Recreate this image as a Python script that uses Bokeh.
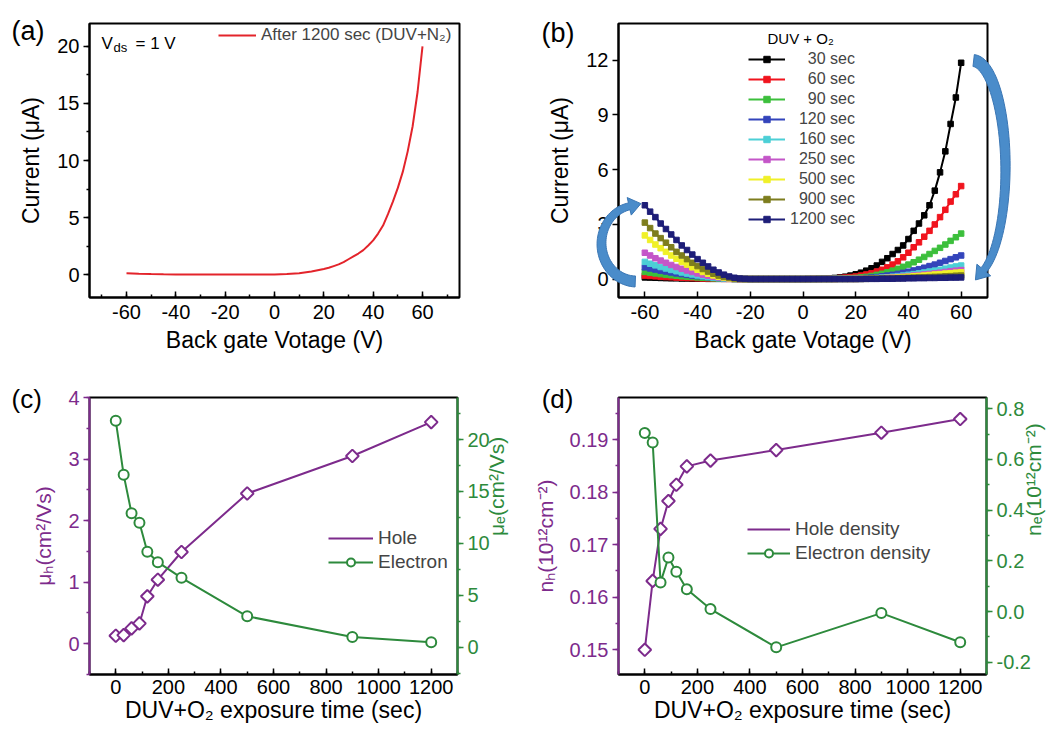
import numpy as np
from bokeh.plotting import figure
from bokeh.models import (Range1d, LinearAxis, Legend, LegendItem, Label,
                          SingleIntervalTicker, PrintfTickFormatter)
from bokeh.layouts import column, row
from bokeh.embed import file_html
from bokeh.resources import INLINE

FONT = "Liberation Sans"
PURPLE = "#7d2b8c"
GREEN = "#2d8a3c"
ARROW = "#4a8cca"

# ---------------- data ----------------
# (a) DUV+N2, 1200 sec
vg_a = [-60, -55, -50, -45, -40, -35, -30, -25, -20, -15, -10, -5, 0, 5, 10, 15, 20, 22, 24, 26, 28,
        30, 32, 34, 36, 38, 40, 42, 44, 46, 48, 50, 52, 54, 56, 58, 60]
i_a = [0.12, 0.08, 0.05, 0.03, 0.02, 0.01, 0.01, 0.01, 0.01, 0.01, 0.01, 0.01, 0.02, 0.05,
       0.12, 0.27, 0.50, 0.60, 0.75, 0.90, 1.10, 1.35, 1.60, 1.85, 2.15, 2.55, 3.00, 3.60, 4.30,
       5.30, 6.40, 7.60, 9.00, 10.8, 13.0, 16.0, 20.0]

# (b) DUV+O2 transfer curves
vg_b = [-60, -58, -56, -54, -52, -50, -48, -46, -44, -42, -40, -38, -36, -34, -32, -30, -28, -26, -24, -22,
        -20, -18, -16, -14, -12, -10, -8, -6, -4, -2, 0, 2, 4, 6, 8, 10, 12, 14, 16, 18,
        20, 22, 24, 26, 28, 30, 32, 34, 36, 38, 40, 42, 44, 46, 48, 50, 52, 54, 56, 58, 60]
i_30 = [0.10, 0.09, 0.08, 0.07, 0.06, 0.05, 0.05, 0.04, 0.04, 0.03, 0.03, 0.03, 0.02, 0.02, 0.02, 0.02, 0.02, 0.01, 0.01, 0.01,
        0.01, 0.01, 0.01, 0.01, 0.01, 0.01, 0.01, 0.01, 0.01, 0.01, 0.01, 0.02, 0.02, 0.03, 0.04, 0.05, 0.07, 0.10, 0.14, 0.20,
        0.27, 0.36, 0.47, 0.60, 0.75, 0.95, 1.15, 1.38, 1.60, 1.85, 2.20, 2.65, 3.05, 3.50, 4.05, 4.85, 5.85, 7.00, 8.50, 9.95, 11.85]
i_60 = [0.20, 0.18, 0.16, 0.14, 0.12, 0.11, 0.09, 0.08, 0.07, 0.06, 0.05, 0.04, 0.04, 0.03, 0.03, 0.02, 0.02, 0.02, 0.01, 0.01,
        0.01, 0.01, 0.01, 0.01, 0.01, 0.01, 0.01, 0.01, 0.01, 0.01, 0.01, 0.01, 0.02, 0.02, 0.03, 0.04, 0.05, 0.07, 0.09, 0.12,
        0.15, 0.20, 0.26, 0.33, 0.42, 0.52, 0.65, 0.80, 0.98, 1.20, 1.45, 1.75, 2.02, 2.33, 2.65, 3.00, 3.40, 3.80, 4.25, 4.65, 5.10]
i_90 = [0.40, 0.36, 0.32, 0.28, 0.25, 0.22, 0.19, 0.16, 0.14, 0.12, 0.10, 0.08, 0.07, 0.05, 0.04, 0.03, 0.03, 0.02, 0.02, 0.01,
        0.01, 0.01, 0.01, 0.01, 0.01, 0.01, 0.01, 0.01, 0.01, 0.01, 0.01, 0.01, 0.01, 0.02, 0.02, 0.02, 0.03, 0.04, 0.05, 0.06,
        0.07, 0.10, 0.13, 0.18, 0.24, 0.30, 0.38, 0.47, 0.57, 0.68, 0.80, 0.93, 1.07, 1.22, 1.38, 1.55, 1.72, 1.90, 2.10, 2.30, 2.50]
i_120 = [0.65, 0.59, 0.53, 0.47, 0.42, 0.37, 0.32, 0.28, 0.24, 0.20, 0.17, 0.14, 0.11, 0.09, 0.07, 0.05, 0.04, 0.03, 0.02, 0.02,
         0.01, 0.01, 0.01, 0.01, 0.01, 0.01, 0.01, 0.01, 0.01, 0.01, 0.01, 0.01, 0.01, 0.01, 0.02, 0.02, 0.02, 0.03, 0.03, 0.04,
         0.04, 0.05, 0.07, 0.09, 0.12, 0.16, 0.20, 0.24, 0.29, 0.35, 0.41, 0.48, 0.55, 0.63, 0.72, 0.80, 0.90, 1.00, 1.10, 1.20, 1.30]
i_160 = [0.95, 0.85, 0.76, 0.67, 0.59, 0.51, 0.44, 0.37, 0.31, 0.26, 0.21, 0.16, 0.12, 0.09, 0.06, 0.04, 0.03, 0.02, 0.02, 0.01,
         0.01, 0.01, 0.01, 0.01, 0.01, 0.01, 0.01, 0.01, 0.01, 0.01, 0.01, 0.01, 0.01, 0.01, 0.01, 0.01, 0.02, 0.02, 0.02, 0.03,
         0.03, 0.03, 0.04, 0.05, 0.07, 0.09, 0.11, 0.14, 0.17, 0.20, 0.24, 0.28, 0.32, 0.37, 0.42, 0.47, 0.52, 0.58, 0.64, 0.70, 0.75]
i_250 = [1.45, 1.30, 1.15, 1.02, 0.90, 0.78, 0.67, 0.57, 0.48, 0.40, 0.32, 0.25, 0.19, 0.14, 0.10, 0.07, 0.04, 0.03, 0.02, 0.01,
         0.01, 0.01, 0.01, 0.01, 0.01, 0.01, 0.01, 0.01, 0.01, 0.01, 0.01, 0.01, 0.01, 0.01, 0.01, 0.01, 0.01, 0.02, 0.02, 0.02,
         0.02, 0.03, 0.03, 0.04, 0.05, 0.06, 0.08, 0.10, 0.12, 0.14, 0.17, 0.20, 0.23, 0.26, 0.29, 0.32, 0.36, 0.40, 0.44, 0.47, 0.50]
i_500 = [2.40, 2.15, 1.90, 1.70, 1.50, 1.30, 1.12, 0.95, 0.80, 0.65, 0.52, 0.40, 0.30, 0.21, 0.14, 0.09, 0.05, 0.03, 0.02, 0.01,
         0.01, 0.01, 0.01, 0.01, 0.01, 0.01, 0.01, 0.01, 0.01, 0.01, 0.01, 0.01, 0.01, 0.01, 0.01, 0.01, 0.01, 0.02, 0.02, 0.02,
         0.02, 0.02, 0.03, 0.04, 0.05, 0.06, 0.07, 0.08, 0.10, 0.12, 0.14, 0.16, 0.18, 0.20, 0.23, 0.26, 0.28, 0.31, 0.33, 0.36, 0.38]
i_900 = [3.10, 2.80, 2.50, 2.25, 2.00, 1.75, 1.50, 1.30, 1.10, 0.90, 0.72, 0.56, 0.42, 0.30, 0.20, 0.13, 0.08, 0.04, 0.02, 0.01,
         0.01, 0.01, 0.01, 0.01, 0.01, 0.01, 0.01, 0.01, 0.01, 0.01, 0.01, 0.01, 0.01, 0.01, 0.01, 0.01, 0.01, 0.01, 0.01, 0.01,
         0.01, 0.02, 0.02, 0.03, 0.03, 0.04, 0.04, 0.05, 0.06, 0.07, 0.08, 0.09, 0.10, 0.11, 0.12, 0.13, 0.14, 0.16, 0.17, 0.19, 0.20]
i_1200 = [4.05, 3.70, 3.40, 3.05, 2.75, 2.45, 2.15, 1.85, 1.60, 1.35, 1.10, 0.90, 0.70, 0.52, 0.37, 0.25, 0.15, 0.08, 0.04, 0.02,
          0.01, 0.01, 0.01, 0.01, 0.01, 0.01, 0.01, 0.01, 0.01, 0.01, 0.01, 0.01, 0.01, 0.01, 0.01, 0.01, 0.01, 0.01, 0.01, 0.01,
          0.01, 0.01, 0.02, 0.02, 0.02, 0.03, 0.03, 0.03, 0.04, 0.04, 0.05, 0.05, 0.06, 0.06, 0.07, 0.07, 0.08, 0.08, 0.09, 0.09, 0.10]
b_series = [i_30, i_60, i_90, i_120, i_160, i_250, i_500, i_900, i_1200]
b_labels = ["\u2007\u200730 sec", "\u2007\u200760 sec", "\u2007\u200790 sec", "\u2007120 sec", "\u2007160 sec",
            "\u2007250 sec", "\u2007500 sec", "\u2007900 sec", "1200 sec"]
b_colors = ["#000000", "#f0141e", "#3cbf3c", "#3344bb", "#4ccfd6", "#c456c8", "#f0f028", "#7d7d1e", "#1e1e78"]

# (c), (d) vs DUV+O2 exposure time
t_exp = [0, 30, 60, 90, 120, 160, 250, 500, 900, 1200]
mu_h = [0.13, 0.14, 0.25, 0.33, 0.77, 1.04, 1.49, 2.44, 3.05, 3.60]
mu_e = [21.8, 16.6, 12.9, 12.0, 9.2, 8.2, 6.7, 3.0, 1.0, 0.5]
n_h = [0.1500, 0.1631, 0.1730, 0.1783, 0.1814, 0.1849, 0.1860, 0.1880, 0.1913, 0.1939]
n_e = [0.704, 0.667, 0.115, 0.213, 0.157, 0.088, 0.010, -0.141, -0.006, -0.121]

# ---------------- geometry ----------------
TOP_H = 364
GEOM = {
    "a": dict(frame=(89, 23, 459, 298), xr=(-75, 75), yr=(-2, 22)),
    "b": dict(frame=(618, 23, 987, 297), xr=(-70, 70), yr=(-1, 14)),
    "c": dict(frame=(89, 397, 457, 674), xr=(-100, 1300), yr=(-0.5, 4)),
    "d": dict(frame=(618, 396, 987, 674), xr=(-100, 1300), yr=(0.1453, 0.198)),
}


def px2data(key, px, py):
    g = GEOM[key]
    l, t, r, b = g["frame"]
    x0, x1 = g["xr"]
    y0, y1 = g["yr"]
    x = x0 + (np.asarray(px, float) - l) * (x1 - x0) / (r - l)
    y = y0 + (b - np.asarray(py, float)) * (y1 - y0) / (b - t)
    return x, y


def make_fig(key, w, h, top, bottom):
    g = GEOM[key]
    l, t, r, b = g["frame"]
    x_off = 0 if key in ("a", "c") else 530
    p = figure(width=w, height=h, x_range=Range1d(*g["xr"]), y_range=Range1d(*g["yr"]),
               output_backend="svg", toolbar_location=None,
               min_border_left=l - x_off, min_border_right=x_off + w - r,
               min_border_top=top, min_border_bottom=bottom)
    p.grid.visible = False
    p.outline_line_color = "black"
    p.outline_line_width = 2
    p.outline_line_alpha = 1
    p.background_fill_color = "white"
    p.border_fill_color = "white"
    return p


def style_axis(ax, color="black", x=True, tick_font="20px", label_font="23px",
               label_standoff=6, major_standoff=5):
    ax.axis_line_color = color
    ax.axis_line_width = 2
    ax.major_tick_line_color = color
    ax.minor_tick_line_color = color
    ax.major_tick_line_width = 1.5
    ax.minor_tick_line_width = 1.5
    if x:
        ax.major_tick_in, ax.major_tick_out = 6, 0
        ax.minor_tick_in, ax.minor_tick_out = 3, 0
    else:
        ax.major_tick_in, ax.major_tick_out = 0, 6
        ax.minor_tick_in, ax.minor_tick_out = 0, 3
    ax.major_label_text_font = FONT
    ax.major_label_text_font_size = tick_font
    ax.major_label_text_color = color
    ax.major_label_standoff = major_standoff
    ax.axis_label_text_font = FONT
    ax.axis_label_text_font_size = label_font
    ax.axis_label_text_font_style = "normal"
    ax.axis_label_text_color = color
    ax.axis_label_standoff = label_standoff


def flip_label(ax):
    try:
        ax.axis_label_orientation = np.pi / 2
    except Exception:
        pass


def add_text(p, key, text, px, py, size, color="black", baseline="middle", align="left", place="center"):
    x, y = px2data(key, px, py)
    p.add_layout(Label(x=float(x), y=float(y), text=text, text_font=FONT, text_font_size=size,
                       text_color=color, text_baseline=baseline, text_align=align), place)


def mk_legend(items, loc, font, glyph_w, label_h, glyph_h):
    return Legend(items=items, location=loc, label_text_font=FONT, label_text_font_size=font,
                  glyph_width=glyph_w, glyph_height=glyph_h, label_height=label_h,
                  spacing=0, padding=5, margin=0, label_standoff=5,
                  border_line_alpha=0, background_fill_alpha=0)


def arc_arrow(cx, cy, rx, ry, th0, th1, w0, w1, hw, hl, n=50):
    """outline (page pixels) of a thick curved arrow along an elliptic arc."""
    th = np.radians(np.linspace(th0, th1, n))
    px = cx + rx * np.cos(th)
    py = cy - ry * np.sin(th)
    s = np.sign(th1 - th0)
    tx = -rx * np.sin(th) * s
    ty = -ry * np.cos(th) * s
    L = np.hypot(tx, ty)
    tx, ty = tx / L, ty / L
    nx, ny = -ty, tx
    w = np.linspace(w0, w1, n) / 2
    lx, ly = px + nx * w, py + ny * w
    qx, qy = px - nx * w, py - ny * w
    ex, ey = px[-1], py[-1]
    hx = [ex + nx[-1] * hw, ex + tx[-1] * hl, ex - nx[-1] * hw]
    hy = [ey + ny[-1] * hw, ey + ty[-1] * hl, ey - ny[-1] * hw]
    return np.array(list(lx) + hx + list(qx[::-1])), np.array(list(ly) + hy + list(qy[::-1]))


# ---------------- (a) ----------------
pa = make_fig("a", 530, TOP_H, 23, TOP_H - 298)
la = pa.line(vg_a, i_a, line_color="#e3242b", line_width=2)
pa.xaxis.ticker = SingleIntervalTicker(interval=20, num_minor_ticks=2)
pa.yaxis.ticker = SingleIntervalTicker(interval=5, num_minor_ticks=2)
pa.xaxis.formatter = PrintfTickFormatter(format="%d")
pa.yaxis.formatter = PrintfTickFormatter(format="%d")
pa.xaxis.axis_label = "Back gate Votage (V)"
pa.yaxis.axis_label = "Current (\u03bcA)"
style_axis(pa.xaxis[0], x=True, label_standoff=5, major_standoff=7)
style_axis(pa.yaxis[0], x=False, label_standoff=10, major_standoff=4)
pa.add_layout(mk_legend([LegendItem(label="After 1200 sec (DUV+N\u2082)", renderers=[la])],
                        (124, 247), "17px", 38, 20, 20))
add_text(pa, "a", "V", 101, 43, "17px", baseline="alphabetic")
add_text(pa, "a", "ds", 113, 47, "13px", baseline="alphabetic")
add_text(pa, "a", "= 1 V", 135, 43, "17px", baseline="alphabetic")
add_text(pa, "a", "(a)", 11, 31, "27px", place="right")

# ---------------- (b) ----------------
pb = make_fig("b", 529, TOP_H, 23, TOP_H - 297)
b_items = []
for ys, lab, col in zip(b_series, b_labels, b_colors):
    r1 = pb.line(vg_b, ys, line_color=col, line_width=2)
    r2 = pb.scatter(vg_b, ys, marker="square", size=5.5, fill_color=col, line_color=col)
    b_items.append(LegendItem(label=lab, renderers=[r1, r2]))
pb.xaxis.ticker = SingleIntervalTicker(interval=20, num_minor_ticks=0)
pb.yaxis.ticker = SingleIntervalTicker(interval=3, num_minor_ticks=0)
pb.xaxis.formatter = PrintfTickFormatter(format="%d")
pb.yaxis.formatter = PrintfTickFormatter(format="%d")
pb.xaxis.axis_label = "Back gate Votage (V)"
pb.yaxis.axis_label = "Current (\u03bcA)"
style_axis(pb.xaxis[0], x=True, label_standoff=5, major_standoff=7)
style_axis(pb.yaxis[0], x=False, label_standoff=10, major_standoff=4)
pb.add_layout(mk_legend(b_items, (125, 297 - 234), "16px", 37, 20, 16))
add_text(pb, "b", "DUV + O\u2082", 767, 38, "15px")
add_text(pb, "b", "(b)", 541, 32, "27px", place="right")

# transparent overlay on top of panel (b) for the curved arrows that leave the frame
pov = figure(width=529, height=TOP_H, x_range=Range1d(530, 1059), y_range=Range1d(0, TOP_H),
             output_backend="svg", toolbar_location=None, x_axis_type=None, y_axis_type=None,
             min_border=0, min_border_left=0, min_border_right=0, min_border_top=0, min_border_bottom=0)
try:
    pov.frame_align = False
except Exception:
    pass
pov.grid.visible = False
pov.outline_line_color = None
pov.background_fill_alpha = 0
pov.border_fill_alpha = 0
pov.margin = (0, 0, 0, -529)
for args in [(636, 243, 35, 38, 268, 102, 11, 7, 9, 12),
             (972, 168, 33, 108, 88, -70, 12, 7, 9, 13)]:
    xs, ys = arc_arrow(*args)
    pov.patch(list(xs), list(TOP_H - ys), fill_color=ARROW, line_color="#3a76b4", line_width=1)

# ---------------- (c) ----------------
BOT_H = 733 - TOP_H
pc = make_fig("c", 530, BOT_H, 397 - TOP_H, 59)
pc.extra_y_ranges = {"e": Range1d(-2.6, 24.04)}
rc_h1 = pc.line(t_exp, mu_h, line_color=PURPLE, line_width=2)
rc_h2 = pc.scatter(t_exp, mu_h, marker="square", angle=np.pi / 4, size=9, fill_color="white",
                   line_color=PURPLE, line_width=2)
rc_e1 = pc.line(t_exp, mu_e, line_color=GREEN, line_width=2, y_range_name="e")
rc_e2 = pc.scatter(t_exp, mu_e, marker="circle", size=10, fill_color="white",
                   line_color=GREEN, line_width=2, y_range_name="e")
rc_hl = pc.scatter([], [], marker="diamond", size=14, fill_color="white", line_color=PURPLE, line_width=2)
ax_ce = LinearAxis(y_range_name="e", axis_label="\u03bc\u2091(cm\u00b2/Vs)",
                   ticker=SingleIntervalTicker(interval=5, num_minor_ticks=2),
                   formatter=PrintfTickFormatter(format="%d"))
pc.add_layout(ax_ce, "right")
pc.xaxis.ticker = SingleIntervalTicker(interval=200, num_minor_ticks=2)
pc.yaxis[0].ticker = SingleIntervalTicker(interval=1, num_minor_ticks=2)
pc.xaxis.formatter = PrintfTickFormatter(format="%d")
pc.yaxis[0].formatter = PrintfTickFormatter(format="%d")
pc.xaxis.axis_label = "DUV+O\u2082 exposure time (sec)"
pc.yaxis[0].axis_label = "\u03bc\u2095(cm\u00b2/Vs)"
style_axis(pc.xaxis[0], x=True, label_standoff=0, major_standoff=5)
style_axis(pc.yaxis[0], color=PURPLE, x=False, label_font="21px", label_standoff=10, major_standoff=4)
style_axis(ax_ce, color=GREEN, x=False, label_font="21px", label_standoff=4, major_standoff=4)
flip_label(ax_ce)
pc.add_layout(mk_legend([LegendItem(label="Hole", renderers=[rc_h1, rc_hl]),
                         LegendItem(label="Electron", renderers=[rc_e1, rc_e2])],
                        (234, 95), "19px", 45, 24, 20))
add_text(pc, "c", "(c)", 11, 398, "26px", place="above")

# ---------------- (d) ----------------
pd_ = make_fig("d", 529, BOT_H, 396 - TOP_H, 59)
pd_.extra_y_ranges = {"e": Range1d(-0.248, 0.844)}
rd_h1 = pd_.line(t_exp, n_h, line_color=PURPLE, line_width=2)
rd_h2 = pd_.scatter(t_exp, n_h, marker="square", angle=np.pi / 4, size=9, fill_color="white",
                    line_color=PURPLE, line_width=2)
rd_e1 = pd_.line(t_exp, n_e, line_color=GREEN, line_width=2, y_range_name="e")
rd_e2 = pd_.scatter(t_exp, n_e, marker="circle", size=10, fill_color="white",
                    line_color=GREEN, line_width=2, y_range_name="e")
rd_hl = pd_.scatter([], [], marker="diamond", size=14, fill_color="white", line_color=PURPLE, line_width=2)
ax_de = LinearAxis(y_range_name="e", axis_label="n\u2091(10\u00b9\u00b2cm\u207b\u00b2)",
                   ticker=SingleIntervalTicker(interval=0.2, num_minor_ticks=2),
                   formatter=PrintfTickFormatter(format="%.1f"))
pd_.add_layout(ax_de, "right")
pd_.xaxis.ticker = SingleIntervalTicker(interval=200, num_minor_ticks=2)
pd_.yaxis[0].ticker = SingleIntervalTicker(interval=0.01, num_minor_ticks=2)
pd_.xaxis.formatter = PrintfTickFormatter(format="%d")
pd_.yaxis[0].formatter = PrintfTickFormatter(format="%.2f")
pd_.xaxis.axis_label = "DUV+O\u2082 exposure time (sec)"
pd_.yaxis[0].axis_label = "n\u2095(10\u00b9\u00b2cm\u207b\u00b2)"
style_axis(pd_.xaxis[0], x=True, label_standoff=0, major_standoff=5)
style_axis(pd_.yaxis[0], color=PURPLE, x=False, label_font="21px", label_standoff=10, major_standoff=4)
style_axis(ax_de, color=GREEN, x=False, label_font="21px", label_standoff=0, major_standoff=4)
flip_label(ax_de)
pd_.add_layout(mk_legend([LegendItem(label="Hole density", renderers=[rd_h1, rd_hl]),
                          LegendItem(label="Electron density", renderers=[rd_e1, rd_e2])],
                         (124, 104), "19px", 43, 24, 20))
add_text(pd_, "d", "(d)", 541, 398, "26px", place="above")

layout = column(row(pa, pb, pov), row(pc, pd_))
open("out.html", "w").write(file_html(layout, INLINE))
